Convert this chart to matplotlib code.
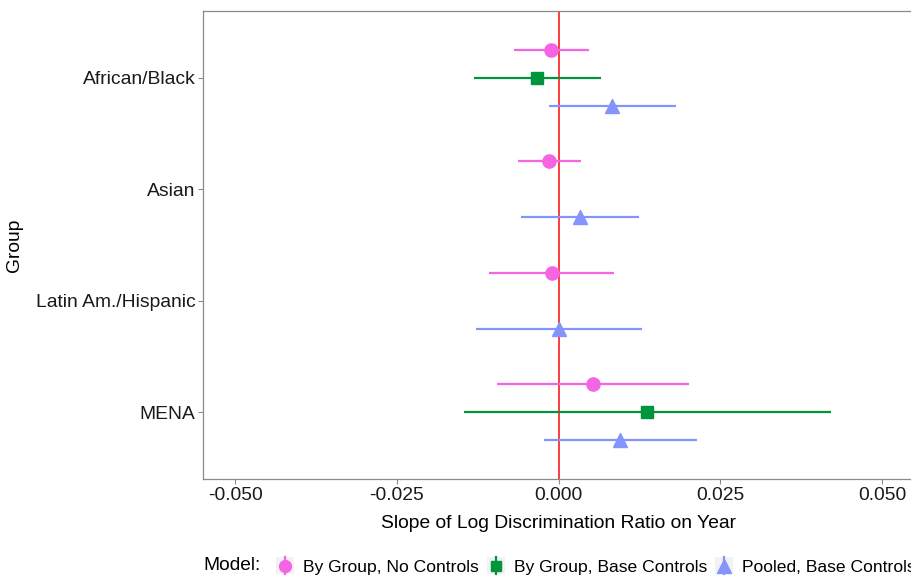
import matplotlib
matplotlib.use("Agg")
import matplotlib.pyplot as plt
from matplotlib.lines import Line2D
from matplotlib.patches import Rectangle
from matplotlib.legend_handler import HandlerBase
import numpy as np

plt.rcParams['font.family'] = ['Liberation Sans', 'DejaVu Sans']

groups = ["African/Black", "Asian", "Latin Am./Hispanic", "MENA"]
models = ["By Group, No Controls", "By Group, Base Controls", "Pooled, Base Controls"]

# estimates and CI per model (None = not estimated)
est_nocontrols = [-0.0012, -0.0015, -0.0011, 0.0053]
lo_nocontrols = [-0.0069, -0.0063, -0.0107, -0.0095]
hi_nocontrols = [0.0047, 0.0034, 0.0085, 0.0202]

est_base = [-0.0033, None, None, 0.0137]
lo_base = [-0.0131, None, None, -0.0147]
hi_base = [0.0065, None, None, 0.0421]

est_pooled = [0.0083, 0.0033, 0.0000, 0.0095]
lo_pooled = [-0.0015, -0.0058, -0.0128, -0.0023]
hi_pooled = [0.0181, 0.0124, 0.0129, 0.0214]

xticks = [-0.050, -0.025, 0.000, 0.025, 0.050]
xticklabels = ["-0.050", "-0.025", "0.000", "0.025", "0.050"]

colors = ["#F564E3", "#00953C", "#8494FF"]
markers = ["o", "s", "^"]
msizes = [9.5, 8.5, 10.5]
offsets = [-0.25, 0.0, 0.25]
series = [(est_nocontrols, lo_nocontrols, hi_nocontrols),
          (est_base, lo_base, hi_base),
          (est_pooled, lo_pooled, hi_pooled)]

W, H = 911, 576
fig = plt.figure(figsize=(W / 100, H / 100), dpi=100)
ax = fig.add_axes([203 / W, 1 - 479 / H, (914.3 - 203) / W, (479 - 11) / H])

ax.axvline(0, color="#FF3B3B", lw=1.4, zorder=1)

for (est, lo, hi), c, m, ms, off in zip(series, colors, markers, msizes, offsets):
    for i, (e, l, h) in enumerate(zip(est, lo, hi)):
        if e is None:
            continue
        y = i + 1 + off
        ax.plot([l, h], [y, y], color=c, lw=1.6, solid_capstyle="butt", zorder=2)
        ax.plot([e], [y], marker=m, color=c, ms=ms, mec=c, zorder=3, ls="none")

ax.set_xlim(-0.055, 0.055)
ax.set_ylim(4.6, 0.4)
ax.set_yticks(range(1, len(groups) + 1))
ax.set_yticklabels(groups)
ax.set_xticks(xticks)
ax.set_xticklabels(xticklabels)
ax.tick_params(axis="both", labelsize=13.9, colors="#8A8A8A", length=3.5, width=0.8,
               labelcolor="#1A1A1A", pad=2)
for s in ax.spines.values():
    s.set_color("#8A8A8A")
    s.set_linewidth(0.9)
ax.set_xlabel("Slope of Log Discrimination Ratio on Year", fontsize=13.9, color="#000000", labelpad=8)
ax.set_ylabel("Group", fontsize=13.9, color="#000000", labelpad=9)


class HandlerPointRange(HandlerBase):
    def create_artists(self, legend, orig_handle, xdescent, ydescent, width, height, fontsize, trans):
        cx = width / 2 - xdescent
        bg = Rectangle((-xdescent, -ydescent), width, height, facecolor="#F2F2F2",
                       edgecolor="none", transform=trans)
        c = orig_handle.get_color()
        vl = Line2D([cx, cx], [-ydescent, height - ydescent], color=c, lw=1.6, transform=trans)
        mk = Line2D([cx], [height / 2 - ydescent], marker=orig_handle.get_marker(),
                    ms=orig_handle.get_markersize() * 0.9, color=c, mec=c, ls="none", transform=trans)
        return [bg, vl, mk]


handles = [Line2D([], [], color=c, marker=m, ms=ms) for c, m, ms in zip(colors, markers, msizes)]
fig.text(203 / W, 1 - 566 / H, "Model:", fontsize=13.8, ha="left", va="center")
leg = fig.legend(handles, models, loc="center left", bbox_to_anchor=(276 / W, 1 - 566 / H),
                 ncol=3, frameon=False, fontsize=12.6, borderpad=0, borderaxespad=0,
                 handlelength=1.05, handleheight=1.05, handletextpad=0.5, columnspacing=0.45,
                 handler_map={Line2D: HandlerPointRange()})

fig.savefig("out.png", dpi=100)
